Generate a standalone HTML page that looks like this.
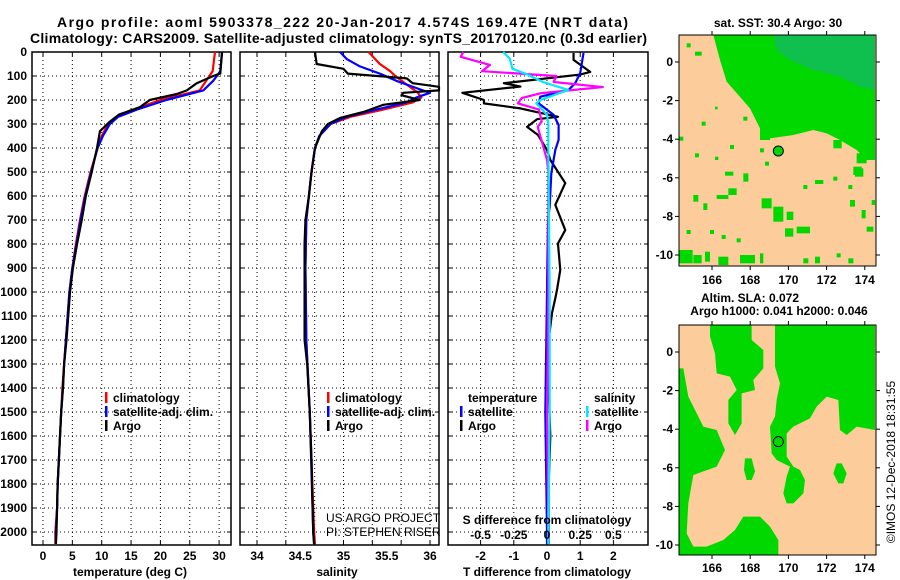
<!DOCTYPE html>
<html><head><meta charset="utf-8"><style>
body{margin:0;background:#fff}
svg{display:block}
text{font-family:"Liberation Sans",sans-serif;font-weight:bold;fill:#000}
</style></head><body>
<svg id="s" width="900" height="580" viewBox="0 0 900 580">
<text x="57" y="27" font-size="14" textLength="571">Argo profile: aoml 5903378_222 20-Jan-2017 4.574S 169.47E (NRT data)</text>
<text x="30" y="43" font-size="14" textLength="617">Climatology: CARS2009. Satellite-adjusted climatology: synTS_20170120.nc (0.3d earlier)</text>

<!-- Map 1 -->
<g>
<text x="778" y="27" font-size="12" text-anchor="middle">sat. SST: 30.4 Argo: 30</text>
<rect x="679" y="35" width="197" height="231" fill="#fccc9a"/>
<g transform="translate(440,40) scale(0.33333)">
<polygon fill="#00d800" points="820,-15 1305,-15 1305,360 1280,360 1250,330 1200,300 1160,280 1120,270 1060,285 990,295 960,265 930,205 895,165 860,125 840,60"/>
<polygon fill="#14b868" opacity="0.75" points="1000,-15 1305,-15 1305,150 1260,140 1200,110 1120,90 1050,60 1010,30"/>
<g fill="#00d800">
<rect x="965" y="475" width="30" height="30"/><rect x="1000" y="500" width="30" height="45"/><rect x="1040" y="515" width="20" height="25"/>
<rect x="1035" y="565" width="25" height="25"/><rect x="1070" y="560" width="40" height="20"/>
<rect x="718" y="630" width="40" height="40"/><rect x="760" y="645" width="25" height="25"/><rect x="795" y="635" width="15" height="30"/>
<rect x="835" y="650" width="30" height="25"/><rect x="900" y="645" width="45" height="25"/><rect x="1240" y="380" width="25" height="25"/>
<rect x="1180" y="300" width="25" height="25"/><rect x="1250" y="340" width="30" height="30"/>
<rect x="960" y="260" width="30" height="40"/><rect x="830" y="465" width="35" height="12"/>
<rect x="865" y="445" width="25" height="20"/><rect x="760" y="465" width="15" height="20"/>
<rect x="910" y="400" width="15" height="25"/><rect x="855" y="395" width="25" height="12"/>
<rect x="740" y="10" width="12" height="12"/><rect x="765" y="35" width="20" height="12"/>
<rect x="785" y="245" width="12" height="12"/><rect x="825" y="200" width="8" height="8"/>
<rect x="870" y="315" width="12" height="12"/><rect x="960" y="325" width="12" height="12"/>
<rect x="765" y="340" width="12" height="12"/><rect x="825" y="350" width="10" height="10"/>
<rect x="975" y="365" width="12" height="12"/><rect x="1090" y="435" width="12" height="12"/>
<rect x="1180" y="410" width="12" height="12"/><rect x="1225" y="435" width="12" height="12"/>
<rect x="718" y="290" width="12" height="12"/><rect x="1230" y="480" width="15" height="20"/>
<rect x="1265" y="510" width="12" height="25"/><rect x="1280" y="560" width="20" height="15"/>
<rect x="740" y="570" width="12" height="12"/><rect x="810" y="570" width="12" height="12"/>
<rect x="845" y="585" width="12" height="12"/><rect x="890" y="595" width="12" height="12"/>
<rect x="1190" y="640" width="12" height="12"/><rect x="1225" y="655" width="15" height="15"/>
<rect x="1125" y="650" width="15" height="20"/><rect x="960" y="640" width="10" height="30"/>
<rect x="1090" y="655" width="15" height="15"/><rect x="790" y="490" width="12" height="20"/>
<rect x="1125" y="420" width="25" height="12"/><rect x="910" y="230" width="12" height="12"/>
<rect x="1245" y="385" width="25" height="25"/><rect x="1295" y="480" width="10" height="15"/>
</g>
<circle cx="1015" cy="333" r="15" fill="#00d800" stroke="#000" stroke-width="3"/>
</g>
<rect x="679" y="35" width="197" height="231" fill="none" stroke="#000"/>
</g>

<!-- Map 2 -->
<g>
<text x="750" y="302" font-size="12" text-anchor="middle">Altim. SLA: 0.072</text>
<text x="779" y="315" font-size="12" text-anchor="middle">Argo h1000: 0.041 h2000: 0.046</text>
<rect x="679" y="325" width="197" height="230" fill="#fccc9a"/>
<g transform="translate(440,300) scale(0.33333)" fill="#00d800">
<polygon points="810,75 935,75 935,120 970,150 970,205 940,240 945,270 905,280 905,370 885,405 865,370 865,300 890,270 870,230 830,220 825,160 810,110"/>
<polygon points="718,205 730,205 745,290 790,380 830,390 855,450 830,500 760,525 745,610 740,700 760,740 800,740 850,720 885,690 910,650 960,650 990,680 1015,720 1015,765 718,765"/>
<polygon points="1005,75 1305,75 1305,390 1250,380 1220,405 1200,390 1195,300 1160,290 1130,320 1110,355 1060,380 1040,400 1040,470 1060,500 1080,510 1095,540 1090,580 1060,610 1040,610 1030,580 1040,530 1050,500 1010,480 995,460 990,380 1005,350 1010,300 1020,250 1005,200"/>
<polygon points="915,475 935,475 945,515 935,540 920,540 912,510"/>
<polygon points="1190,490 1205,490 1220,520 1210,550 1195,550 1180,520"/>
<circle cx="1015" cy="425" r="15" fill="none" stroke="#000" stroke-width="3"/>
</g>
<rect x="679" y="325" width="197" height="230" fill="none" stroke="#000"/>
</g>

<text transform="translate(895,462) rotate(-90)" font-size="12" style="font-weight:normal" text-anchor="middle">©IMOS 12-Dec-2018 18:31:55</text>
<g id="plots"></g>
</svg>
<script>
// ---- data ----
const depthTicks=[0,100,200,300,400,500,600,700,800,900,1000,1100,1200,1300,1400,1500,1600,1700,1800,1900,2000];
const tDepthArgo=[0,90,100,130,160,175,200,230,260,290,330,400,500,600,700,800,900,1000,1100,1200,1300,1400,1500,1600,1700,1800,1900,2000,2050];
const tempArgo=[30.5,30.2,29,26.2,24.5,22.8,18.2,16.5,13,11.4,9.7,9.2,8.3,7.3,6.6,5.8,5.1,4.6,4.3,4.0,3.6,3.4,3.1,2.9,2.7,2.5,2.4,2.3,2.2];
const tDepthClim=[0,80,120,160,200,240,270,300,350,400,500,600,700,800,900,1000,1100,1200,1300,1400,1500,1600,1700,1800,1900,2000,2050];
const tempClim=[29.3,28.9,27.8,26.7,20,15.4,12.6,11.1,10,9.3,8.1,7.1,6.3,5.6,5.0,4.5,4.2,3.9,3.6,3.3,3.1,2.9,2.7,2.5,2.4,2.1,2.1];
const tempSat=[30.5,30.2,29,27.3,21,16,12.8,11.4,10.2,9.3,8.2,7.2,6.4,5.7,5.0,4.5,4.2,3.9,3.6,3.4,3.1,2.9,2.7,2.5,2.4,2.2,2.2];
const sDepthArgo=[0,50,70,90,110,130,145,160,170,180,200,220,250,275,300,330,400,500,600,700,800,1000,1200,1300,1500,1700,2000,2050];
const salArgo=[34.67,34.69,35.0,35.05,35.73,35.8,36.2,36.2,35.69,35.67,35.88,35.46,35.23,34.96,34.82,34.75,34.67,34.63,34.6,34.56,34.55,34.55,34.55,34.58,34.61,34.63,34.65,34.66];
const sDepthClim=[0,50,80,100,130,170,190,210,240,270,300,350,400,500,700,900,1200,1500,2000,2050];
const salClim=[35.29,35.42,35.54,35.6,35.71,35.86,35.9,35.8,35.46,35.08,34.85,34.72,34.67,34.63,34.57,34.56,34.57,34.61,34.66,34.67];
const sDepthSat=[0,30,60,90,120,150,170,190,210,240,270,300,350,400,500,700,900,1200,1500,2000,2050];
const salSat=[34.96,35.04,35.19,35.42,35.61,35.84,36.0,35.84,35.73,35.38,35.04,34.85,34.72,34.67,34.63,34.57,34.56,34.57,34.61,34.65,34.66];
const dDepthT=[4,33,83,94,130,144,170,200,214,235,270,280,312,346,408,450,546,637,742,798,908,992,1033,1088,1200,1400,1600,1800,2000,2050];
const dTArgo=[0.8,0.8,1.3,1.0,-1.3,-0.8,-2.55,-1.9,-1.9,-0.8,0.33,-0.3,-0.6,-0.27,0,0.1,0.55,0.25,0.55,0.33,0.4,0.3,0.24,0.15,0.05,0.05,0.1,0.05,0.05,0.05];
const dDepthTS=[4,88,130,158,186,214,262,304,366,408,505,644,700,1000,1500,2000,2050];
const dTSat=[1.1,1.0,0.85,0.65,-0.2,-0.25,0.2,0.35,0.35,0.25,0.13,0.08,0.03,0.0,-0.05,0.0,0.0];
const dDepthS=[0,20,54,80,100,125,146,172,192,214,240,290,312,450,500,1000,1500,2000,2050];
const dSArgo=[-0.63,-0.65,-0.43,-0.49,0.07,0.05,0.42,-0.05,-0.19,-0.22,-0.06,-0.04,-0.07,0,0.01,0.01,0,0.01,0.01];
const dDepthSS=[0,28,70,93,125,158,200,214,262,300,400,1000,1500,2000,2050];
const dSSat=[-0.33,-0.28,-0.26,-0.15,-0.03,0.16,-0.05,-0.08,0,0.01,0.01,0.02,0.02,0.01,0.01];
const tTicks=[0,5,10,15,20,25,30];
const sTicks=[34,34.5,35,35.5,36];
const sGrid=[34,34.3333,34.6667,35,35.3333,35.6667,36];
const dTTicks=[-2,-1,0,1,2];
const dSTicks=[-0.5,-0.25,0,0.25,0.5];
const dSTickLabels=["-0.5","-0.25","0","0.25","0.5"];
const latTicks=[0,-2,-4,-6,-8,-10];
const lonTicks=[166,168,170,172,174];

// ---- geometry ----
const TOP=52,BOT=545;
const yD=d=>TOP+d*0.24;
const xT=t=>43+t*5.87;
const xS=s=>257+(s-34)*86.5;
const xDT=v=>547+v*33.2;
const xDS=v=>547+v*132.8;
const NS="http://www.w3.org/2000/svg";
const root=document.getElementById('plots');
function mk(tag,attrs,parent){const e=document.createElementNS(NS,tag);for(const k in attrs)e.setAttribute(k,attrs[k]);(parent||root).appendChild(e);return e;}
function txt(x,y,s,size,anchor,parent){const e=mk('text',{x:x,y:y,'font-size':size,'text-anchor':anchor||'middle'},parent);e.textContent=s;return e;}

function panel(name,x0,x1,gridX,xf){
  const g=mk('g',{});
  
  
  depthTicks.forEach(d=>{if(d>0){const l=mk('line',{x1:x0,x2:x1,y1:yD(d),y2:yD(d),stroke:'#000','stroke-dasharray':'1 3'},g);
    mk('line',{x1:x0,x2:x0+4,y1:yD(d),y2:yD(d),stroke:'#000'},g);mk('line',{x1:x1-4,x2:x1,y1:yD(d),y2:yD(d),stroke:'#000'},g);}});
  gridX.forEach(v=>{const X=xf(v);if(X>x0+1&&X<x1-1){const l=mk('line',{x1:X,x2:X,y1:TOP,y2:BOT,stroke:'#000','stroke-dasharray':'1 3'},g);
    mk('line',{x1:X,x2:X,y1:TOP,y2:TOP+4,stroke:'#000'},g);mk('line',{x1:X,x2:X,y1:BOT-4,y2:BOT,stroke:'#000'},g);}});
  const r=mk('rect',{x:x0,y:TOP,width:x1-x0,height:BOT-TOP,fill:'none',stroke:'#000','stroke-width':1.5},g);
  
  return g;
}
function line(g,name,xs,ds,xf,color,clipX0,clipX1){
  const pts=xs.map((v,i)=>Math.max(clipX0,Math.min(clipX1,xf(v)))+','+yD(ds[i])).join(' ');
  const p=mk('polyline',{points:pts,fill:'none',stroke:color,'stroke-width':2.2,'stroke-linejoin':'round'},g);
  
  
}
depthTicks.forEach(d=>{const t=txt(27,yD(d)+4,String(d),12,'end');});

const p1=panel('temperature-panel',32,231,tTicks,xT);
line(p1,'temp-climatology-line',tempClim,tDepthClim,xT,'#ff0000',32,231);
line(p1,'temp-satellite-line',tempSat,tDepthClim,xT,'#0000ff',32,231);
line(p1,'temp-argo-line',tempArgo,tDepthArgo,xT,'#000000',32,231);
tTicks.forEach(v=>{const t=txt(xT(v),560,String(v),12);});
txt(130,576,'temperature (deg C)',12);

const p2=panel('salinity-panel',240,439,sGrid,xS);
line(p2,'sal-climatology-line',salClim,sDepthClim,xS,'#ff0000',240,439);
line(p2,'sal-satellite-line',salSat,sDepthSat,xS,'#0000ff',240,439);
line(p2,'sal-argo-line',salArgo,sDepthArgo,xS,'#000000',240,439);
sTicks.forEach(v=>{const t=txt(xS(v),560,String(v),12);});
txt(337,576,'salinity',12);
const c1=txt(326,522,'US ARGO PROJECT',12,'start');c1.setAttribute('style','font-weight:normal');
const c2=txt(326,536,'PI: STEPHEN RISER',12,'start');c2.setAttribute('style','font-weight:normal');

const p3=panel('difference-panel',448,648,dTTicks,xDT);
line(p3,'diff-t-argo-line',dTArgo,dDepthT,xDT,'#000000',448,648);
line(p3,'diff-t-satellite-line',dTSat,dDepthTS,xDT,'#0000ff',448,648);
line(p3,'diff-s-argo-line',dSArgo,dDepthS,xDS,'#ff00ff',448,648);
line(p3,'diff-s-satellite-line',dSSat,dDepthSS,xDS,'#00e8ff',448,648);
dTTicks.forEach(v=>{const t=txt(xDT(v),560,String(v),12);});
dSTicks.forEach((v,i)=>{const t=txt(xDS(v),539,dSTickLabels[i],12);});
txt(547,524,'S difference from climatology',12);
txt(547,576,'T difference from climatology',12);

function leg(x,y,color,label,name){const g=mk('g',{});
  if(color)mk('rect',{x:x-8,y:y-10,width:2.5,height:11,fill:color},g);txt(x,y,label,12,'start',g);}
leg(113,402,'#ff0000','climatology','legend-climatology');
leg(113,416,'#0000ff','satellite-adj. clim.','legend-satellite-adj');
leg(113,430,'#000','Argo','legend-argo');
leg(335,402,'#ff0000','climatology','legend2-climatology');
leg(335,416,'#0000ff','satellite-adj. clim.','legend2-satellite-adj');
leg(335,430,'#000','Argo','legend2-argo');
leg(468,402,null,'temperature','legend-temperature-heading');
leg(468,416,'#0000ff','satellite','legend-t-satellite');
leg(468,430,'#000','Argo','legend-t-argo');
leg(594,402,null,'salinity','legend-salinity-heading');
leg(594,416,'#00e8ff','satellite','legend-s-satellite');
leg(594,430,'#ff00ff','Argo','legend-s-argo');

function mapAxes(y0,y1,lat0,latScale,labY){
  latTicks.forEach(v=>{const Y=lat0-v*latScale;
    const t=txt(673,Y+4,String(v),12,'end');
    mk('line',{x1:876,x2:880,y1:Y,y2:Y,stroke:'#000'});mk('line',{x1:675,x2:679,y1:Y,y2:Y,stroke:'#000'});});
  lonTicks.forEach(v=>{const X=712+(v-166)*19.1;
    const t=txt(X,labY,String(v),12);
    mk('line',{x1:X,x2:X,y1:y1,y2:y1+4,stroke:'#000'});mk('line',{x1:X,x2:X,y1:y0-4,y2:y0,stroke:'#000'});});
}
mapAxes(35,266,62,19.3,284);
mapAxes(325,555,352,19.3,572);
</script>
</body></html>
